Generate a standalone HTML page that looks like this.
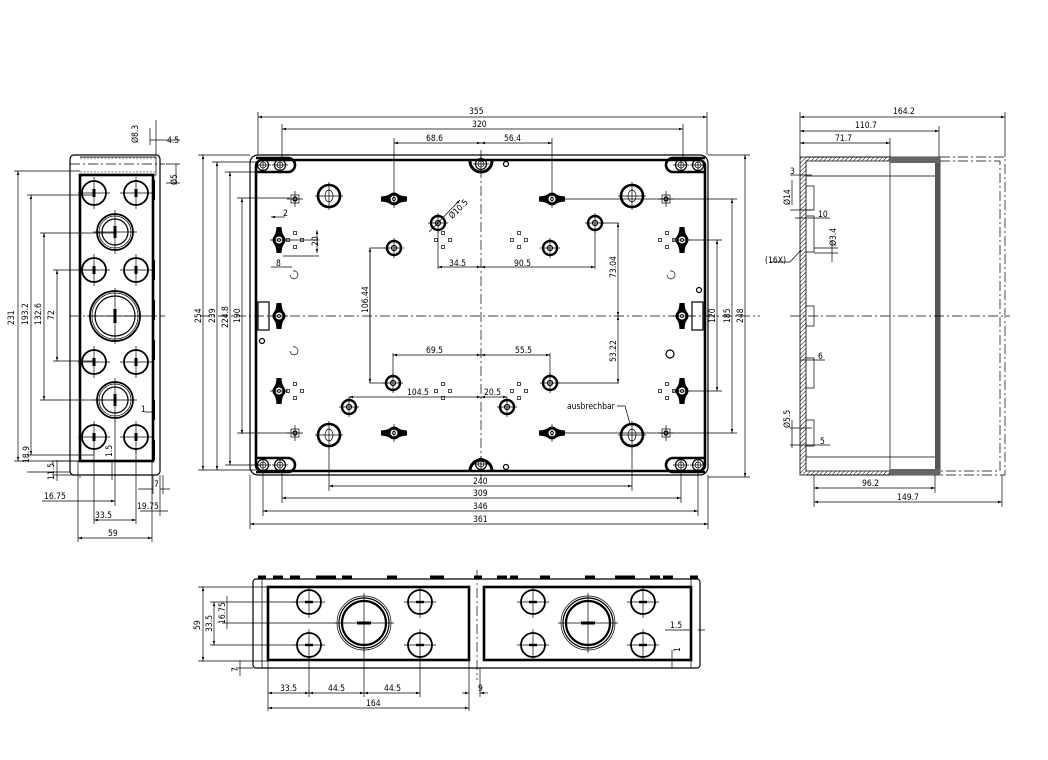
<!DOCTYPE html>
<html><head><meta charset="utf-8"><style>
html,body{margin:0;padding:0;background:#fff}
svg{display:block}
text{font-family:"DejaVu Sans Condensed","Liberation Sans",sans-serif;font-size:8.5px;fill:#000}
.t{stroke:#000;stroke-width:2.6;fill:none}
.m{stroke:#000;stroke-width:1.2;fill:none}
.n{stroke:#000;stroke-width:0.7;fill:none}
.c{stroke:#000;stroke-width:0.7;fill:none;stroke-dasharray:10 3 2 3}
.h{stroke:#000;stroke-width:0.6;fill:none;stroke-dasharray:2 1.5}
</style></head><body>
<svg width="1048" height="760" viewBox="0 0 1048 760" xmlns="http://www.w3.org/2000/svg">
<defs>
<marker id="a" viewBox="0 0 10 6" refX="10" refY="3" markerWidth="6" markerHeight="4" orient="auto-start-reverse"><path d="M0,0L10,3L0,6z" fill="#000"/></marker>
<g id="sc"><circle r="5.5" class="m"/><circle r="3" class="n"/><path d="M-8,0H8M0,-8V8" class="n"/></g>
<g id="boss"><circle r="7" stroke="#000" stroke-width="2.4" fill="none"/><circle r="2.5" class="m"/><path d="M-10,0H10M0,-10V10" class="n"/></g>
<g id="big"><circle r="11" stroke="#000" stroke-width="2.6" fill="none"/><ellipse rx="4" ry="6" class="n"/><path d="M-14,0H14M0,-14V14" class="n"/></g>
<g id="wh"><path d="M-13,-2.5Q-6,-3 -4,-5A6,6 0 0 1 4,-5Q6,-3 13,-2.5V2.5Q6,3 4,5A6,6 0 0 1 -4,5Q-6,3 -13,2.5z" fill="#000"/><circle r="4" fill="#fff" stroke="#000"/><circle r="1.6" class="n"/><path d="M0,-9V9" class="n"/></g>
<g id="wv"><use href="#wh" transform="rotate(90)"/></g>
<g id="sq"><rect x="-4" y="-4" width="8" height="8" class="n"/><circle r="2" class="m"/><path d="M-8,0H8M0,-8V8" class="n"/></g>
<g id="q4"><rect x="-1.5" y="-8.5" width="3" height="3" class="n"/><rect x="-1.5" y="5.5" width="3" height="3" class="n"/><rect x="-8.5" y="-1.5" width="3" height="3" class="n"/><rect x="5.5" y="-1.5" width="3" height="3" class="n"/></g>
<g id="lh"><circle r="12" stroke="#000" stroke-width="1.8" fill="none"/><rect x="-1.5" y="-4" width="3" height="8" fill="#000"/><path d="M-16,0H16M0,-16V16" class="n"/></g>
<g id="bh"><circle r="13" class="m"/><circle r="16" class="n"/><circle r="18" stroke="#000" stroke-width="1.8" fill="none"/><rect x="-1.5" y="-6" width="3" height="12" fill="#000"/><path d="M-22,0H22M0,-22V22" class="n"/></g>
<g id="bz"><circle r="20" class="m"/><circle r="23" class="n"/><circle r="25" stroke="#000" stroke-width="1.8" fill="none"/><rect x="-1.5" y="-7" width="3" height="14" fill="#000"/><path d="M-28,0H28M0,-28V28" class="n"/></g>
<g id="hs"><circle r="12" stroke="#000" stroke-width="1.8" fill="none"/><rect x="-4" y="-1.2" width="8" height="2.4" fill="#000"/><path d="M-16,0H16M0,-16V16" class="n"/></g>
<g id="hb"><circle r="22" stroke="#000" stroke-width="2.2" fill="none"/><circle r="25" class="m"/><circle r="27" class="n"/><rect x="-7" y="-1.5" width="14" height="3" fill="#000"/><path d="M-30,0H30M0,-30V30" class="n"/></g>
</defs>

<!-- ============ FRONT VIEW ============ -->
<rect x="250" y="155" width="458" height="320" rx="8" class="m"/>
<rect x="256" y="160" width="449" height="311" rx="6" class="t"/>
<path d="M200,316H760" class="c"/><path d="M481,150V480" class="c"/>
<rect x="258" y="302" width="11" height="28" class="m"/><rect x="692" y="302" width="11" height="28" class="m"/>
<g>
<use href="#sc" x="263" y="165"/><use href="#sc" x="698" y="165"/><use href="#sc" x="263" y="465"/><use href="#sc" x="698" y="465"/>
<use href="#sc" x="280" y="165"/><use href="#sc" x="681" y="165"/><use href="#sc" x="280" y="465"/><use href="#sc" x="681" y="465"/>
<path d="M256,158h32a7,7 0 0 1 0,14h-32" class="t"/><path d="M705,158h-32a7,7 0 0 0 0,14h32" class="t"/>
<path d="M256,472h32a7,7 0 0 0 0,-14h-32" class="t"/><path d="M705,472h-32a7,7 0 0 1 0,-14h32" class="t"/>
<path d="M470,161a11,11 0 0 0 22,0" stroke="#000" stroke-width="3" fill="none"/><use href="#sc" x="481" y="164"/>
<path d="M470,471a11,11 0 0 1 22,0" stroke="#000" stroke-width="3" fill="none"/><use href="#sc" x="481" y="464"/>
<circle cx="506" cy="164" r="2.5" class="m"/><circle cx="506" cy="467" r="2.5" class="m"/>
<use href="#big" x="329" y="196"/><use href="#big" x="632" y="196"/><use href="#big" x="329" y="435"/><use href="#big" x="632" y="435"/>
<use href="#wh" x="394" y="199"/><use href="#wh" x="552" y="199"/><use href="#wh" x="394" y="433"/><use href="#wh" x="552" y="433"/>
<use href="#wv" x="279" y="240"/><use href="#wv" x="682" y="240"/><use href="#wv" x="279" y="391"/><use href="#wv" x="682" y="391"/><use href="#wv" x="279" y="316"/><use href="#wv" x="682" y="316"/>
<use href="#boss" x="438" y="223"/><use href="#boss" x="394" y="248"/><use href="#boss" x="550" y="248"/><use href="#boss" x="595" y="223"/>
<use href="#boss" x="393" y="383"/><use href="#boss" x="550" y="383"/><use href="#boss" x="349" y="407"/><use href="#boss" x="507" y="407"/>
<use href="#sq" x="295" y="199"/><use href="#sq" x="666" y="199"/><use href="#sq" x="295" y="433"/><use href="#sq" x="666" y="433"/>
<use href="#q4" x="295" y="240"/><use href="#q4" x="443" y="240"/><use href="#q4" x="519" y="240"/><use href="#q4" x="667" y="240"/>
<use href="#q4" x="295" y="391"/><use href="#q4" x="443" y="391"/><use href="#q4" x="519" y="391"/><use href="#q4" x="667" y="391"/>
<path d="M290,275a4,4 0 1 0 3,-4M290,351a4,4 0 1 0 3,-4M667,275a4,4 0 1 0 3,-4" class="n"/>
<circle cx="670" cy="354" r="4" class="m"/><circle cx="699" cy="290" r="2.5" class="m"/><circle cx="262" cy="341" r="2.5" class="m"/>
<path d="M429,232L460,200" class="n" marker-end="url(#a)"/>
</g>
<text x="441" y="218" transform="rotate(-45 448 205)">Ø10.5</text>
<!-- top dims -->
<g class="n">
<path d="M258,155V112M707,155V112M282,160V124M683,160V124M394,190V138M552,190V138"/>
<path d="M258,117H707" marker-start="url(#a)" marker-end="url(#a)"/>
<path d="M282,129H683" marker-start="url(#a)" marker-end="url(#a)"/>
<path d="M394,143H481" marker-start="url(#a)" marker-end="url(#a)"/>
<path d="M481,143H552" marker-start="url(#a)" marker-end="url(#a)"/>
<!-- left -->
<path d="M198,155H250M212,162H256M225,172H263M237,198H290M237,433H290M198,470H256M212,470H256M225,465H263"/>
<path d="M203,155V470" marker-start="url(#a)" marker-end="url(#a)"/>
<path d="M217,162V470" marker-start="url(#a)" marker-end="url(#a)"/>
<path d="M230,172V465" marker-start="url(#a)" marker-end="url(#a)"/>
<path d="M242,198V434" marker-start="url(#a)" marker-end="url(#a)"/>
<!-- right -->
<path d="M690,240H722M690,391H722M560,199H737M560,433H737M708,155H750M708,477H750"/>
<path d="M717,240V391" marker-start="url(#a)" marker-end="url(#a)"/>
<path d="M732,199V433" marker-start="url(#a)" marker-end="url(#a)"/>
<path d="M745,155V477" marker-start="url(#a)" marker-end="url(#a)"/>
<!-- bottom -->
<path d="M329,446V491M632,446V491M282,470V503M681,470V503M263,470V516M698,470V516M250,475V529M708,475V529"/>
<path d="M329,486H632" marker-start="url(#a)" marker-end="url(#a)"/>
<path d="M282,498H681" marker-start="url(#a)" marker-end="url(#a)"/>
<path d="M263,511H698" marker-start="url(#a)" marker-end="url(#a)"/>
<path d="M250,524H708" marker-start="url(#a)" marker-end="url(#a)"/>
<!-- inner dims -->
<path d="M386,248H370V383H386" /><path d="M370,248V383" marker-start="url(#a)" marker-end="url(#a)"/>
<path d="M438,230V269M595,230V269"/><path d="M438,267H481" marker-start="url(#a)" marker-end="url(#a)"/><path d="M481,267H595" marker-start="url(#a)" marker-end="url(#a)"/>
<path d="M602,223H619M557,383H619"/><path d="M618,223V316" marker-start="url(#a)" marker-end="url(#a)"/><path d="M618,316V383" marker-start="url(#a)" marker-end="url(#a)"/>
<path d="M393,353V376M550,353V376"/><path d="M393,355H481" marker-start="url(#a)" marker-end="url(#a)"/><path d="M481,355H550" marker-start="url(#a)" marker-end="url(#a)"/>
<path d="M349,397V400"/><path d="M349,397H481" marker-start="url(#a)" marker-end="url(#a)"/><path d="M481,397H507" marker-start="url(#a)" marker-end="url(#a)"/>
<path d="M283,240H319M283,256H319"/><path d="M317,230V253" marker-start="url(#a)" marker-end="url(#a)"/>
<path d="M271,267H292"/><path d="M271,217H285" marker-start="url(#a)" />
<path d="M617,406H625L630,424"/>
</g>
<g>
<text x="469" y="114">355</text><text x="472" y="127">320</text>
<text x="426" y="141">68.6</text><text x="504" y="141">56.4</text>
<text x="473" y="484">240</text><text x="473" y="496">309</text><text x="473" y="509">346</text><text x="473" y="522">361</text>
<text transform="translate(201,323) rotate(-90)">254</text>
<text transform="translate(215,323) rotate(-90)">239</text>
<text transform="translate(228,328) rotate(-90)">224.8</text>
<text transform="translate(240,323) rotate(-90)">190</text>
<text transform="translate(715,323) rotate(-90)">120</text>
<text transform="translate(730,323) rotate(-90)">185</text>
<text transform="translate(743,323) rotate(-90)">248</text>
<text transform="translate(368,313) rotate(-90)">106.44</text>
<text transform="translate(616,278) rotate(-90)">73.04</text>
<text transform="translate(616,362) rotate(-90)">53.22</text>
<text x="449" y="266">34.5</text><text x="514" y="266">90.5</text>
<text x="426" y="353">69.5</text><text x="515" y="353">55.5</text>
<text x="407" y="395">104.5</text><text x="484" y="395">20.5</text>
<text x="283" y="216">2</text><text x="276" y="266">8</text>
<text transform="translate(318,246) rotate(-90)">20</text>
<text x="567" y="409">ausbrechbar</text>
</g>

<!-- ============ LEFT VIEW ============ -->
<rect x="70" y="155" width="90" height="320" rx="4" class="m"/>
<rect x="80" y="175" width="73" height="286" class="t"/>
<path d="M80,157H156V175H80" class="n"/><path d="M80,158H156M80,172H156" class="h" stroke-width="2.5"/>
<path d="M70,164H165" class="c"/><path d="M70,316H165" class="c"/>
<path d="M154,180V200M154,260V280M154,300V320M154,340V360M154,400V420M154,440V460" stroke="#000" stroke-width="2"/>
<use href="#lh" x="94" y="193"/><use href="#lh" x="136" y="193"/>
<use href="#bh" x="115" y="232"/>
<use href="#lh" x="94" y="270"/><use href="#lh" x="136" y="270"/>
<use href="#bz" x="115" y="316"/>
<use href="#lh" x="94" y="362"/><use href="#lh" x="136" y="362"/>
<use href="#bh" x="115" y="400"/>
<use href="#lh" x="94" y="437"/><use href="#lh" x="136" y="437"/>
<g class="n">
<path d="M14,171H80M27,195H94M40,233H115M53,270H94M53,361H94M40,400H115M27,455H94M14,461H80M27,472H70"/>
<path d="M18,171V461" marker-start="url(#a)" marker-end="url(#a)"/>
<path d="M31,195V455" marker-start="url(#a)" marker-end="url(#a)"/>
<path d="M44,233V400" marker-start="url(#a)" marker-end="url(#a)"/>
<path d="M57,270V361" marker-start="url(#a)" marker-end="url(#a)"/>
<path d="M53,461V466"/>
<path d="M57,460V481" /><path d="M52,461H80M52,475H80"/>
<path d="M78,461V542M152,461V542M94,450V524M136,450V524M115,420V506M160,475V516M153,475V494M163,475V494"/>
<path d="M78,538H152" marker-start="url(#a)" marker-end="url(#a)"/>
<path d="M94,520H136" marker-start="url(#a)" marker-end="url(#a)"/>
<path d="M42,501H94M94,501H115" marker-end="url(#a)"/>
<path d="M140,511H150M150,511H168"/><path d="M138,489H153M160,489H170"/>
<path d="M145,412H153M156,155V120M150,145V128M150,140H180M166,164H180M166,183H180M176,164V183"/>
<path d="M112,462V480" /><path d="M80,476V478"/>
</g>
<g>
<text transform="translate(14,325) rotate(-90)">231</text>
<text transform="translate(28,325) rotate(-90)">193.2</text>
<text transform="translate(41,325) rotate(-90)">132.6</text>
<text transform="translate(54,320) rotate(-90)">72</text>
<text transform="translate(29,463) rotate(-90)">18.9</text>
<text transform="translate(54,480) rotate(-90)">11.5</text>
<text transform="translate(112,457) rotate(-90)">1.5</text>
<text x="141" y="412">1</text>
<text x="44" y="499">16.75</text><text x="95" y="518">33.5</text><text x="108" y="536">59</text>
<text x="137" y="509">19.75</text><text x="154" y="487">7</text>
<text transform="translate(138,143) rotate(-90)">Ø8.3</text>
<text x="167" y="143">4.5</text>
<text transform="translate(177,185) rotate(-90)">Ø5</text>
</g>

<!-- ============ RIGHT VIEW ============ -->
<path d="M800,157H890V161H806V471H890V475H800z" fill="url(#hp)" stroke="#000" stroke-width="0.8"/>
<pattern id="hp" width="3" height="3" patternUnits="userSpaceOnUse" patternTransform="rotate(45)"><rect width="3" height="3" fill="#fff"/><path d="M0,0V3" stroke="#000" stroke-width="1"/></pattern>
<path d="M806,157H890V475H806" class="n" fill="none"/>
<path d="M890,157H940V475H890" class="n"/>
<rect x="935" y="157" width="5" height="318" fill="#555"/>
<path d="M890,157H940V163H890z M890,469H940V475H890z" fill="#666"/>
<path d="M806,176H935M806,457H935" class="n"/>
<path d="M940,157H1005V475H940" class="c"/>
<path d="M940,161H1000V471H940" class="c"/>
<path d="M790,316H1010" class="c"/>
<path d="M806,186h8v24h-8M806,216h8v36h-8M806,306h8v20h-8M806,358h8v30h-8M806,420h8v26h-8" class="n"/>
<g class="n">
<path d="M800,157V112M1005,157V112M939,157V126M890,157V138M814,475V507M935,475V493M1002,475V507"/>
<path d="M800,117H1005" marker-start="url(#a)" marker-end="url(#a)"/>
<path d="M800,131H939" marker-start="url(#a)" marker-end="url(#a)"/>
<path d="M800,143H890" marker-start="url(#a)" marker-end="url(#a)"/>
<path d="M814,488H935" marker-start="url(#a)" marker-end="url(#a)"/>
<path d="M814,502H1002" marker-start="url(#a)" marker-end="url(#a)"/>
<path d="M790,175H812M790,210H812"/><path d="M792,180V205"/>
<path d="M795,218H830M814,248H838M814,253H838M832,240V262"/>
<path d="M770,262H790L801,250"/>
<path d="M800,360H825M790,428H812M790,445H830M792,420V448"/>
</g>
<g>
<text x="893" y="114">164.2</text><text x="855" y="128">110.7</text><text x="835" y="141">71.7</text>
<text x="862" y="486">96.2</text><text x="897" y="500">149.7</text>
<text x="790" y="174">3</text>
<text transform="translate(790,205) rotate(-90)">Ø14</text>
<text x="818" y="217">10</text>
<text transform="translate(836,246) rotate(-90)">Ø3.4</text>
<text x="765" y="263">(16X)</text>
<text x="818" y="359">6</text>
<text transform="translate(790,428) rotate(-90)">Ø5.5</text>
<text x="820" y="444">5</text>
</g>

<!-- ============ BOTTOM VIEW ============ -->
<rect x="253" y="579" width="447" height="89" rx="3" class="m"/>
<path d="M262,579V668M691,579V668" class="n"/>
<rect x="268" y="587" width="201" height="73" class="t"/>
<rect x="484" y="587" width="207" height="73" class="t"/>
<path d="M477,570V680" class="c"/>
<path d="M258,577h8M273,577h10M290,577h10M316,577h20M342,577h10M387,577h10M430,577h14M474,577h8M497,577h10M510,577h8M540,577h10M585,577h10M615,577h20M650,577h10M663,577h10M690,577h8" stroke="#000" stroke-width="3"/>
<use href="#hs" x="309" y="602"/><use href="#hs" x="420" y="602"/><use href="#hs" x="309" y="645"/><use href="#hs" x="420" y="645"/>
<use href="#hb" x="364" y="623"/>
<use href="#hs" x="533" y="602"/><use href="#hs" x="643" y="602"/><use href="#hs" x="533" y="645"/><use href="#hs" x="643" y="645"/>
<use href="#hb" x="588" y="623"/>
<g class="n">
<path d="M198,587H268M210,602H297M222,623H338M210,645H297M198,661H268"/>
<path d="M203,587V661" marker-start="url(#a)" marker-end="url(#a)"/>
<path d="M214,602V645" marker-start="url(#a)" marker-end="url(#a)"/>
<path d="M227,596V629"/>
<path d="M268,660V711M309,657V697M364,650V697M420,657V697M469,660V711M480,668V697"/>
<path d="M268,693H309" marker-start="url(#a)" marker-end="url(#a)"/>
<path d="M309,693H364" marker-start="url(#a)" marker-end="url(#a)"/>
<path d="M364,693H420" marker-start="url(#a)" marker-end="url(#a)"/>
<path d="M462,693H469" marker-end="url(#a)"/><path d="M488,693H480" marker-end="url(#a)"/>
<path d="M268,708H469" marker-start="url(#a)" marker-end="url(#a)"/>
<path d="M240,660V676M236,668H253"/>
<path d="M665,630H690M698,630H705M672,650V668"/>
</g>
<g>
<text transform="translate(200,630) rotate(-90)">59</text>
<text transform="translate(212,632) rotate(-90)">33.5</text>
<text transform="translate(225,624) rotate(-90)">16.75</text>
<text transform="translate(238,672) rotate(-90)">7</text>
<text x="280" y="691">33.5</text><text x="328" y="691">44.5</text><text x="384" y="691">44.5</text>
<text x="478" y="691">9</text><text x="366" y="706">164</text>
<text x="670" y="628">1.5</text>
<text transform="translate(680,652) rotate(-90)">1</text>
</g>
</svg>
</body></html>
